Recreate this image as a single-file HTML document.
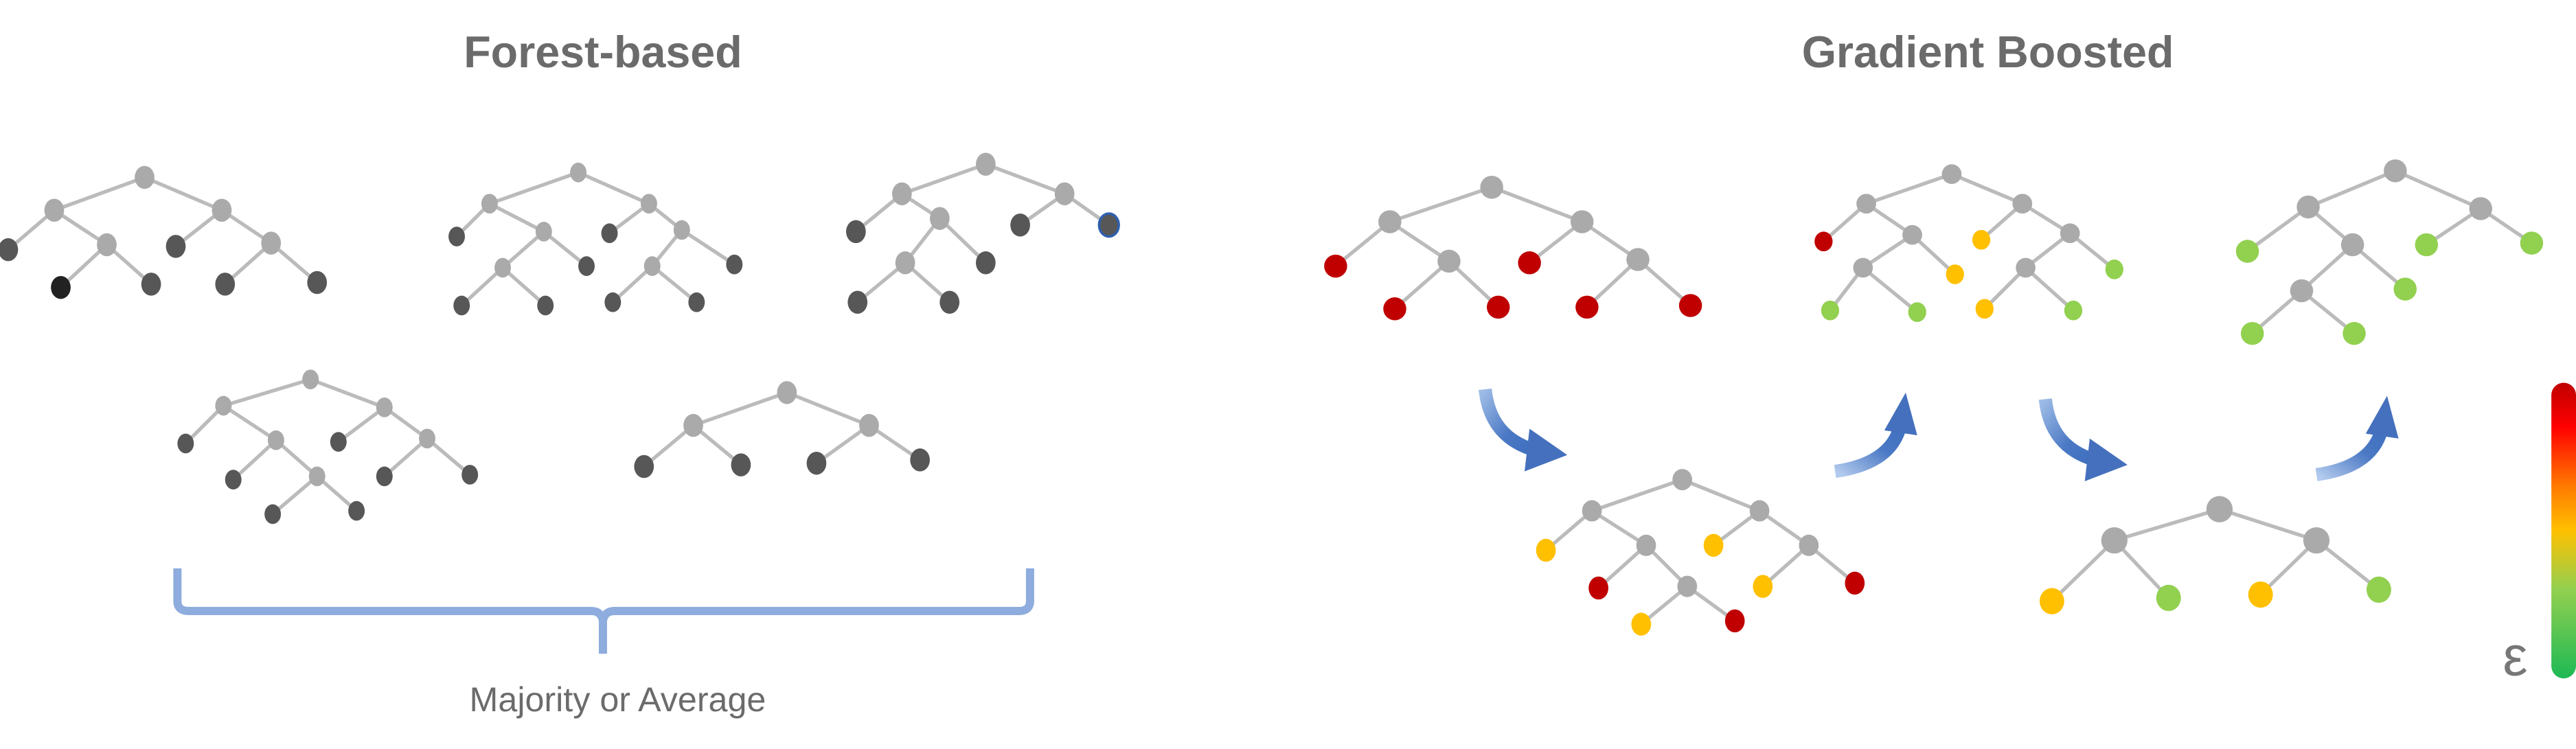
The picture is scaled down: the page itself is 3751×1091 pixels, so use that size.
<!DOCTYPE html>
<html><head><meta charset="utf-8"><style>
html,body{margin:0;padding:0;background:#fff;}
svg{display:block;}
</style></head><body>
<svg width="3751" height="1091" viewBox="0 0 1568 456" preserveAspectRatio="none" xmlns="http://www.w3.org/2000/svg">
<defs>
<linearGradient id="cb" x1="0" y1="0" x2="0" y2="1">
<stop offset="0" stop-color="#c00000"/><stop offset="0.15" stop-color="#ff0000"/><stop offset="0.35" stop-color="#ff7a00"/><stop offset="0.5" stop-color="#ffc000"/><stop offset="0.7" stop-color="#92d050"/><stop offset="1" stop-color="#1db954"/>
</linearGradient>
<linearGradient id="ad" x1="0" y1="0" x2="1" y2="1"><stop offset="0" stop-color="#9dbbe6"/><stop offset="0.6" stop-color="#4a78c4"/><stop offset="1" stop-color="#3f6fbf"/></linearGradient>
<linearGradient id="au" x1="0" y1="1" x2="1" y2="0"><stop offset="0" stop-color="#b3cbee"/><stop offset="0.6" stop-color="#4a78c4"/><stop offset="1" stop-color="#3f6fbf"/></linearGradient>
</defs>
<g font-family="Liberation Sans, sans-serif" fill="#6b6b6b" text-anchor="middle">
<text x="367" y="41" font-size="27" font-weight="bold">Forest-based</text>
<text x="1210" y="41" font-size="27" font-weight="bold">Gradient Boosted</text>
<text x="376" y="433" font-size="21">Majority or Average</text>
<text x="1531" y="411" font-size="34" fill="#777">ε</text>
</g>
<path d="M108 346 V366 Q108 372 115 372 H360 Q366 372 367 378 V398 M367 378 Q368 372 374 372 H620 Q627 372 627 366 V346" fill="none" stroke="#8eacdd" stroke-width="5"/>
<rect x="1553" y="233" width="15" height="180" rx="7.5" fill="url(#cb)"/>
<g>
<path d="M904 237 Q907 266 934 274" fill="none" stroke="url(#ad)" stroke-width="8"/>
<polygon points="931,261 954,277 928,287" fill="#4570bd"/>
</g>
<g transform="translate(341,6)">
<path d="M904 237 Q907 266 934 274" fill="none" stroke="url(#ad)" stroke-width="8"/>
<polygon points="931,261 954,277 928,287" fill="#4570bd"/>
</g>
<g>
<path d="M1117 287 Q1152 282 1157 258" fill="none" stroke="url(#au)" stroke-width="8"/>
<polygon points="1147,262 1160,239 1167,265" fill="#4570bd"/>
</g>
<g transform="translate(293,2)">
<path d="M1117 287 Q1152 282 1157 258" fill="none" stroke="url(#au)" stroke-width="8"/>
<polygon points="1147,262 1160,239 1167,265" fill="#4570bd"/>
</g>
<g stroke="#bbbbbb" stroke-width="2.2" fill="none">
<path d="M88 108L33 128M88 108L135 128M33 128L5 152M33 128L65 149M65 149L37 175M65 149L92 173M135 128L107 150M135 128L165 148M165 148L137 173M165 148L193 172"/>
<path d="M352 105L298 124M352 105L395 124M298 124L278 144M298 124L331 141M395 124L371 142M395 124L415 140M331 141L306 163M331 141L357 162M415 140L397 162M415 140L447 161M306 163L281 186M306 163L332 186M397 162L373 184M397 162L424 184"/>
<path d="M600 100L549 118M600 100L648 118M549 118L521 141M549 118L572 133M648 118L621 137M648 118L675 137M572 133L551 160M572 133L600 160M551 160L522 184M551 160L578 184"/>
<path d="M189 231L136 247M189 231L234 248M136 247L113 270M136 247L168 268M234 248L206 269M234 248L260 267M168 268L142 292M168 268L193 290M260 267L234 290M260 267L286 289M193 290L166 313M193 290L217 311"/>
<path d="M479 239L422 259M479 239L529 259M422 259L392 284M422 259L451 283M529 259L497 282M529 259L560 280"/>
<path d="M908 114L846 135M908 114L963 135M846 135L813 162M846 135L882 159M882 159L849 188M882 159L912 187M963 135L931 160M963 135L997 158M997 158L966 187M997 158L1029 186"/>
<path d="M1188 106L1136 124M1188 106L1231 124M1136 124L1110 147M1136 124L1164 143M1164 143L1134 163M1164 143L1190 167M1134 163L1114 189M1134 163L1167 190M1231 124L1206 146M1231 124L1260 142M1260 142L1233 163M1260 142L1287 164M1233 163L1208 188M1233 163L1262 189"/>
<path d="M1458 104L1405 126M1458 104L1510 127M1405 126L1368 153M1405 126L1432 149M1432 149L1401 177M1432 149L1464 176M1401 177L1371 203M1401 177L1433 203M1510 127L1477 149M1510 127L1541 148"/>
<path d="M1024 292L969 311M1024 292L1071 311M969 311L941 335M969 311L1002 332M1002 332L973 358M1002 332L1027 357M1071 311L1043 332M1071 311L1101 332M1101 332L1073 357M1101 332L1129 355M1027 357L999 380M1027 357L1056 378"/>
<path d="M1351 310L1287 329M1351 310L1410 329M1287 329L1249 366M1287 329L1320 364M1410 329L1376 362M1410 329L1448 359"/>
</g>
<g fill="#aaaaaa">
<ellipse cx="88" cy="108" rx="6" ry="7"/><ellipse cx="33" cy="128" rx="6" ry="7"/><ellipse cx="135" cy="128" rx="6" ry="7"/><ellipse cx="65" cy="149" rx="6" ry="7"/><ellipse cx="165" cy="148" rx="6" ry="7"/>
<ellipse cx="352" cy="105" rx="5" ry="6"/><ellipse cx="298" cy="124" rx="5" ry="6"/><ellipse cx="395" cy="124" rx="5" ry="6"/><ellipse cx="331" cy="141" rx="5" ry="6"/><ellipse cx="415" cy="140" rx="5" ry="6"/><ellipse cx="306" cy="163" rx="5" ry="6"/><ellipse cx="397" cy="162" rx="5" ry="6"/>
<ellipse cx="600" cy="100" rx="6" ry="7"/><ellipse cx="549" cy="118" rx="6" ry="7"/><ellipse cx="648" cy="118" rx="6" ry="7"/><ellipse cx="572" cy="133" rx="6" ry="7"/><ellipse cx="551" cy="160" rx="6" ry="7"/>
<ellipse cx="189" cy="231" rx="5" ry="6"/><ellipse cx="136" cy="247" rx="5" ry="6"/><ellipse cx="234" cy="248" rx="5" ry="6"/><ellipse cx="168" cy="268" rx="5" ry="6"/><ellipse cx="260" cy="267" rx="5" ry="6"/><ellipse cx="193" cy="290" rx="5" ry="6"/>
<ellipse cx="479" cy="239" rx="6" ry="7"/><ellipse cx="422" cy="259" rx="6" ry="7"/><ellipse cx="529" cy="259" rx="6" ry="7"/>
<ellipse cx="908" cy="114" rx="7" ry="7"/><ellipse cx="846" cy="135" rx="7" ry="7"/><ellipse cx="963" cy="135" rx="7" ry="7"/><ellipse cx="882" cy="159" rx="7" ry="7"/><ellipse cx="997" cy="158" rx="7" ry="7"/>
<ellipse cx="1188" cy="106" rx="6" ry="6"/><ellipse cx="1136" cy="124" rx="6" ry="6"/><ellipse cx="1231" cy="124" rx="6" ry="6"/><ellipse cx="1164" cy="143" rx="6" ry="6"/><ellipse cx="1260" cy="142" rx="6" ry="6"/><ellipse cx="1134" cy="163" rx="6" ry="6"/><ellipse cx="1233" cy="163" rx="6" ry="6"/>
<ellipse cx="1458" cy="104" rx="7" ry="7"/><ellipse cx="1405" cy="126" rx="7" ry="7"/><ellipse cx="1510" cy="127" rx="7" ry="7"/><ellipse cx="1432" cy="149" rx="7" ry="7"/><ellipse cx="1401" cy="177" rx="7" ry="7"/>
<ellipse cx="1024" cy="292" rx="6" ry="6.5"/><ellipse cx="969" cy="311" rx="6" ry="6.5"/><ellipse cx="1071" cy="311" rx="6" ry="6.5"/><ellipse cx="1002" cy="332" rx="6" ry="6.5"/><ellipse cx="1101" cy="332" rx="6" ry="6.5"/><ellipse cx="1027" cy="357" rx="6" ry="6.5"/>
<ellipse cx="1351" cy="310" rx="8" ry="8"/><ellipse cx="1287" cy="329" rx="8" ry="8"/><ellipse cx="1410" cy="329" rx="8" ry="8"/>
</g>
<g fill="#575757">
<ellipse cx="5" cy="152" rx="6" ry="7"/><ellipse cx="92" cy="173" rx="6" ry="7"/><ellipse cx="107" cy="150" rx="6" ry="7"/><ellipse cx="137" cy="173" rx="6" ry="7"/><ellipse cx="193" cy="172" rx="6" ry="7"/>
<ellipse cx="278" cy="144" rx="5" ry="6"/><ellipse cx="371" cy="142" rx="5" ry="6"/><ellipse cx="357" cy="162" rx="5" ry="6"/><ellipse cx="447" cy="161" rx="5" ry="6"/><ellipse cx="281" cy="186" rx="5" ry="6"/><ellipse cx="332" cy="186" rx="5" ry="6"/><ellipse cx="373" cy="184" rx="5" ry="6"/><ellipse cx="424" cy="184" rx="5" ry="6"/>
<ellipse cx="521" cy="141" rx="6" ry="7"/><ellipse cx="621" cy="137" rx="6" ry="7"/><ellipse cx="600" cy="160" rx="6" ry="7"/><ellipse cx="522" cy="184" rx="6" ry="7"/><ellipse cx="578" cy="184" rx="6" ry="7"/>
<ellipse cx="113" cy="270" rx="5" ry="6"/><ellipse cx="206" cy="269" rx="5" ry="6"/><ellipse cx="142" cy="292" rx="5" ry="6"/><ellipse cx="234" cy="290" rx="5" ry="6"/><ellipse cx="286" cy="289" rx="5" ry="6"/><ellipse cx="166" cy="313" rx="5" ry="6"/><ellipse cx="217" cy="311" rx="5" ry="6"/>
<ellipse cx="392" cy="284" rx="6" ry="7"/><ellipse cx="451" cy="283" rx="6" ry="7"/><ellipse cx="497" cy="282" rx="6" ry="7"/><ellipse cx="560" cy="280" rx="6" ry="7"/>
</g>
<ellipse cx="37" cy="175" rx="6" ry="7" fill="#222"/>
<ellipse cx="675" cy="137" rx="6" ry="7" fill="#575757" stroke="#2f5fae" stroke-width="1.5"/>
<g fill="#c00000">
<ellipse cx="813" cy="162" rx="7" ry="7"/><ellipse cx="849" cy="188" rx="7" ry="7"/><ellipse cx="912" cy="187" rx="7" ry="7"/><ellipse cx="931" cy="160" rx="7" ry="7"/><ellipse cx="966" cy="187" rx="7" ry="7"/><ellipse cx="1029" cy="186" rx="7" ry="7"/>
<ellipse cx="1110" cy="147" rx="5.5" ry="6"/>
<ellipse cx="973" cy="358" rx="6" ry="7"/><ellipse cx="1129" cy="355" rx="6" ry="7"/><ellipse cx="1056" cy="378" rx="6" ry="7"/>
</g>
<g fill="#ffc000">
<ellipse cx="1206" cy="146" rx="5.5" ry="6"/><ellipse cx="1190" cy="167" rx="5.5" ry="6"/><ellipse cx="1208" cy="188" rx="5.5" ry="6"/>
<ellipse cx="941" cy="335" rx="6" ry="7"/><ellipse cx="1043" cy="332" rx="6" ry="7"/><ellipse cx="1073" cy="357" rx="6" ry="7"/><ellipse cx="999" cy="380" rx="6" ry="7"/>
<ellipse cx="1249" cy="366" rx="7.5" ry="8"/><ellipse cx="1376" cy="362" rx="7.5" ry="8"/>
</g>
<g fill="#92d050">
<ellipse cx="1287" cy="164" rx="5.5" ry="6"/><ellipse cx="1114" cy="189" rx="5.5" ry="6"/><ellipse cx="1167" cy="190" rx="5.5" ry="6"/><ellipse cx="1262" cy="189" rx="5.5" ry="6"/>
<ellipse cx="1368" cy="153" rx="7" ry="7"/><ellipse cx="1477" cy="149" rx="7" ry="7"/><ellipse cx="1541" cy="148" rx="7" ry="7"/><ellipse cx="1464" cy="176" rx="7" ry="7"/><ellipse cx="1371" cy="203" rx="7" ry="7"/><ellipse cx="1433" cy="203" rx="7" ry="7"/>
<ellipse cx="1320" cy="364" rx="7.5" ry="8"/><ellipse cx="1448" cy="359" rx="7.5" ry="8"/>
</g>
</svg>
</body></html>
